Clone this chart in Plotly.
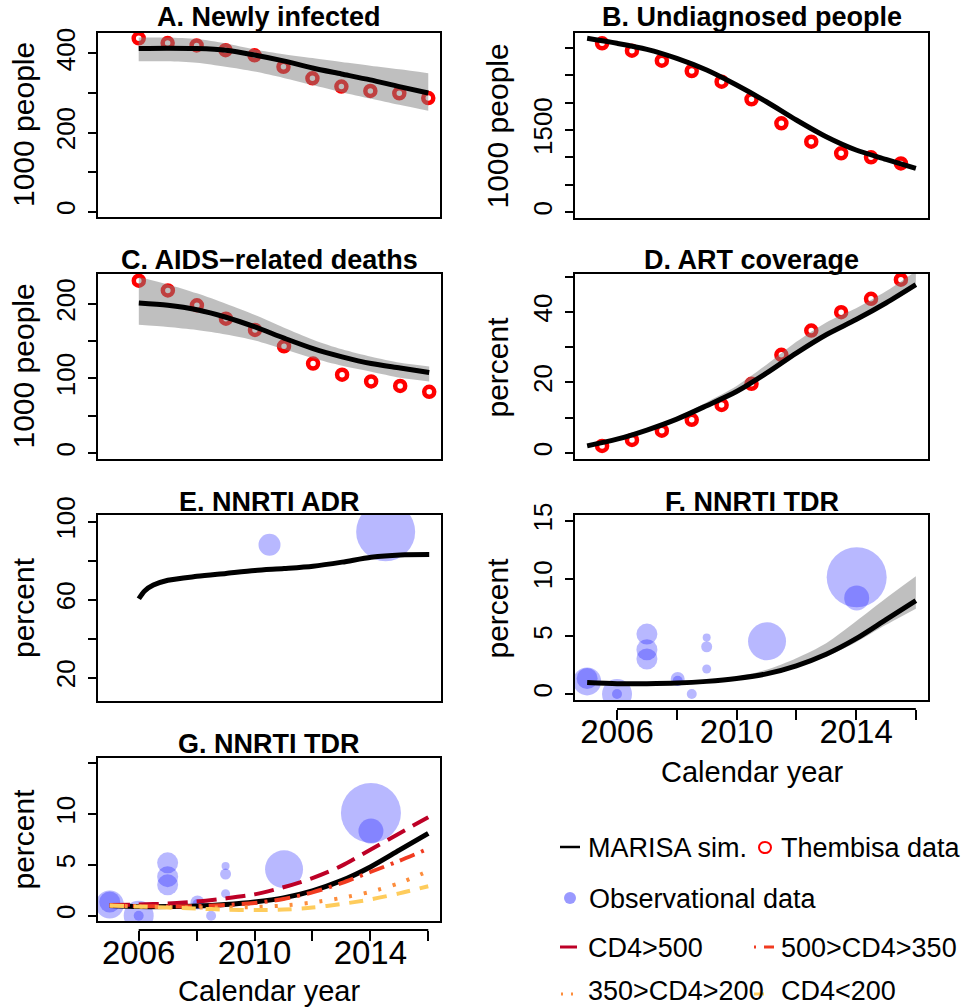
import plotly.graph_objects as go

W, H = 964, 1008
FONT = "Liberation Sans"

# ---------------- data ----------------
years_a = [2006, 2007, 2008, 2009, 2010, 2011, 2012, 2013, 2014, 2015, 2016]
years_b = [2005, 2006, 2007, 2008, 2009, 2010, 2011, 2012, 2013, 2014, 2015, 2016]
data_years_mid = [2005.5, 2006.5, 2007.5, 2008.5, 2009.5, 2010.5, 2011.5, 2012.5, 2013.5, 2014.5, 2015.5]

# A. Newly infected (1000 people)
a_thembisa = [438, 426, 420, 408, 395, 366, 337, 316, 305, 299, 287]
a_sim = [412, 413, 412, 408, 396, 381, 363, 348, 333, 316, 300]
a_upper = [440, 440, 436, 425, 410, 398, 388, 378, 369, 360, 350]
a_lower = [380, 380, 376, 366, 354, 338, 320, 302, 286, 270, 255]

# B. Undiagnosed people (1000 people)
b_thembisa = [3085, 2951, 2768, 2579, 2383, 2061, 1622, 1286, 1073, 1000, 890]
b_sim = [3176, 3085, 2975, 2810, 2597, 2323, 2017, 1683, 1377, 1134, 964, 799]
b_upper = [3196, 3108, 3000, 2838, 2628, 2356, 2050, 1715, 1405, 1160, 988, 822]
b_lower = [3156, 3062, 2950, 2782, 2566, 2290, 1984, 1651, 1349, 1108, 940, 776]

# C. AIDS-related deaths (1000 people)
c_thembisa = [231, 218, 198, 180, 165, 143, 120, 105, 96, 90, 82]
c_sim = [201, 198, 192, 182, 169, 154, 140, 129, 120, 114, 108]
c_upper = [236, 226, 214, 200, 185, 168, 152, 139, 129, 121, 116]
c_lower = [172, 169, 165, 159, 151, 139, 127, 117, 109, 101, 96]

# D. ART coverage (percent)
d_thembisa = [2.0, 3.7, 6.3, 9.4, 13.6, 19.6, 27.8, 34.7, 39.9, 43.7, 49.1]
d_sim = [2.0, 3.9, 6.5, 9.6, 13.4, 17.4, 22.6, 28.3, 33.5, 37.8, 42.5, 47.7]
d_upper = [2.0, 4.0, 6.8, 10.2, 14.4, 19.0, 25.0, 31.5, 37.0, 41.0, 45.8, 51.5]
d_lower = [1.8, 3.6, 6.2, 9.3, 13.1, 17.1, 22.3, 28.0, 33.2, 37.5, 42.2, 47.4]

# E. NNRTI ADR (percent)
e_years = [2006, 2006.2, 2006.5, 2007, 2008, 2009, 2010, 2011, 2012, 2013, 2014, 2015, 2016]
e_sim = [60.5, 64.5, 67.5, 70.0, 72.0, 73.5, 75.0, 76.0, 77.2, 79.3, 81.8, 83.0, 83.2]
e_obs_year = [2010.5, 2014.5]
e_obs_value = [88.2, 94.9]
e_obs_size = [22, 59]

# F / G. NNRTI TDR (percent)
f_sim = [1.0, 0.9, 0.9, 0.95, 1.1, 1.35, 1.75, 2.45, 3.45, 4.8, 6.45, 8.1]
f_upper = [1.0, 0.9, 0.9, 1.0, 1.2, 1.5, 2.1, 3.1, 4.4, 6.3, 8.3, 10.2]
f_lower = [1.0, 0.9, 0.9, 0.95, 1.05, 1.3, 1.65, 2.3, 3.25, 4.5, 6.0, 7.4]
tdr_obs_year = [2005, 2005, 2006, 2006, 2007, 2007, 2007, 2008.03, 2008.03, 2008.5,
                2009, 2009, 2009, 2011.02, 2014.02, 2014.02]
tdr_obs_value = [1.1, 1.35, 0.0, 0.0, 5.2, 3.84, 3.04, 1.3, 1.15, 0.0,
                 4.9, 4.1, 2.17, 4.57, 10.12, 8.33]
tdr_obs_size = [28, 21, 30, 10, 21, 21, 21, 14, 10, 10,
                8, 11, 9, 38, 60, 25]

g_cd4_500 = [1.05, 1.1, 1.2, 1.4, 1.7, 2.1, 2.8, 3.7, 4.9, 6.5, 8.1, 9.7]
g_cd4_350 = [1.0, 0.95, 0.9, 0.95, 1.05, 1.25, 1.65, 2.3, 3.2, 4.3, 5.4, 6.6]
g_cd4_200 = [1.0, 0.9, 0.85, 0.8, 0.8, 0.85, 1.0, 1.3, 1.75, 2.35, 3.2, 4.4]
g_cd4_lt200 = [1.0, 0.9, 0.8, 0.7, 0.6, 0.55, 0.6, 0.8, 1.15, 1.6, 2.2, 2.9]

x_tickvals = [2006, 2008, 2010, 2012, 2014, 2016]
x_ticktext = ["2006", "", "2010", "", "2014", ""]

# ---------------- styling ----------------
RED = "#FF0000"
BAND = "rgba(128,128,128,0.5)"
OBS = "rgba(0,0,255,0.4)"
C500, C350, C200, CLT200 = "#BD0026", "#F03B20", "#FD8D3C", "#FECC5C"


def px_x(px):
    return px / W


def px_y(py):
    return 1 - py / H


fig = go.Figure()


def band(xs, up, lo, ax):
    fig.add_trace(go.Scatter(x=xs, y=lo, mode="lines", line=dict(width=0, shape="spline", smoothing=0.8),
                             hoverinfo="skip", showlegend=False, xaxis="x" + ax, yaxis="y" + ax))
    fig.add_trace(go.Scatter(x=xs, y=up, mode="lines", line=dict(width=0, shape="spline", smoothing=0.8),
                             fill="tonexty", fillcolor=BAND,
                             hoverinfo="skip", showlegend=False, xaxis="x" + ax, yaxis="y" + ax))


def simline(xs, ys, ax, color="black", width=5, dash="solid"):
    fig.add_trace(go.Scatter(x=xs, y=ys, mode="lines",
                             line=dict(color=color, width=width, dash=dash, shape="spline", smoothing=0.8),
                             showlegend=False, xaxis="x" + ax, yaxis="y" + ax))


def thembisa(xs, ys, ax):
    fig.add_trace(go.Scatter(x=xs, y=ys, mode="markers",
                             marker=dict(symbol="circle-open", size=10, color=RED, line=dict(width=4.5, color=RED)),
                             showlegend=False, xaxis="x" + ax, yaxis="y" + ax))


def obs(xs, ys, ss, ax):
    fig.add_trace(go.Scatter(x=xs, y=ys, mode="markers",
                             marker=dict(symbol="circle", size=ss, color=OBS, line=dict(width=0)),
                             showlegend=False, xaxis="x" + ax, yaxis="y" + ax))


# A
thembisa(years_a, a_thembisa, "")
band(years_a, a_upper, a_lower, "")
simline(years_a, a_sim, "")
# B
thembisa(data_years_mid, b_thembisa, "2")
band(years_b, b_upper, b_lower, "2")
simline(years_b, b_sim, "2")
# C
thembisa(years_a, c_thembisa, "3")
band(years_a, c_upper, c_lower, "3")
simline(years_a, c_sim, "3")
# D
thembisa(data_years_mid, d_thembisa, "4")
band(years_b, d_upper, d_lower, "4")
simline(years_b, d_sim, "4")
# E
obs(e_obs_year, e_obs_value, e_obs_size, "5")
simline(e_years, e_sim, "5")
# F
obs(tdr_obs_year, tdr_obs_value, tdr_obs_size, "6")
band(years_b, f_upper, f_lower, "6")
simline(years_b, f_sim, "6")
# G
obs(tdr_obs_year, tdr_obs_value, tdr_obs_size, "7")
simline(years_b, f_sim, "7")
simline(years_b, g_cd4_500, "7", color=C500, width=4, dash="20px,9px")
simline(years_b, g_cd4_350, "7", color=C350, width=4, dash="16px,7px,3px,7px")
simline(years_b, g_cd4_200, "7", color=C200, width=4, dash="3px,12px")
simline(years_b, g_cd4_lt200, "7", color=CLT200, width=4, dash="14px,10px")

# ---------------- axes ----------------
panels = {
    "": dict(box=(97, 441, 32, 218), yr=[-16, 454], tv=[0, 100, 200, 300, 400], tt=["0", "", "200", "", "400"]),
    "2": dict(box=(574, 929, 32, 219), yr=[-127, 3292], tv=[0, 500, 1000, 1500, 2000, 2500, 3000],
              tt=["0", "", "", "1500", "", "", ""]),
    "3": dict(box=(97, 442, 273, 460), yr=[-9.3, 241.3], tv=[0, 50, 100, 150, 200], tt=["0", "", "100", "", "200"]),
    "4": dict(box=(574, 929, 273, 460), yr=[-2, 51], tv=[0, 10, 20, 30, 40, 50], tt=["0", "", "20", "", "40", ""]),
    "5": dict(box=(97, 442, 514, 702), yr=[7.5, 104], tv=[20, 40, 60, 80, 100], tt=["20", "", "60", "", "100"]),
    "6": dict(box=(574, 929, 514, 701), yr=[-0.6, 15.6], tv=[0, 5, 10, 15], tt=["0", "5", "10", "15"]),
    "7": dict(box=(97, 441, 757, 922), yr=[-0.62, 15.62], tv=[0, 5, 10, 15], tt=["0", "5", "10", ""]),
}
xaxis_pos = {"6": 709, "7": 930}
XR = [2004.56, 2016.44]

layout_axes = {}
shapes = []
for k, p in panels.items():
    x0, x1, y0, y1 = p["box"]
    xa = dict(domain=[px_x(x0), px_x(x1)], range=XR, showgrid=False, zeroline=False,
              showline=False, fixedrange=True, anchor="y" + k)
    if k in xaxis_pos:
        xa.update(anchor="free", position=px_y(xaxis_pos[k]), tickvals=x_tickvals, ticktext=x_ticktext,
                  ticks="outside", ticklen=10, tickwidth=2, tickcolor="black",
                  tickfont=dict(family=FONT, size=33, color="black"), ticklabelstandoff=-17)
        shapes.append(dict(type="line", xref="x" + k, yref="paper", x0=2006, x1=2016,
                           y0=px_y(xaxis_pos[k]), y1=px_y(xaxis_pos[k]), line=dict(color="black", width=2)))
    else:
        xa.update(showticklabels=False, ticks="")
    ya = dict(domain=[px_y(y1), px_y(y0)], range=p["yr"], showgrid=False, zeroline=False, showline=False,
              fixedrange=True, anchor="x" + k, tickvals=p["tv"], ticktext=p["tt"], ticks="outside",
              ticklen=8, tickwidth=1.5, tickcolor="black", tickangle=-90,
              tickfont=dict(family=FONT, size=26, color="black"), ticklabelstandoff=3)
    layout_axes["xaxis" + k] = xa
    layout_axes["yaxis" + k] = ya
    shapes.append(dict(type="rect", xref=("x" + k) + " domain", yref=("y" + k) + " domain",
                       x0=0, x1=1, y0=0, y1=1, line=dict(color="black", width=2), layer="above"))

# ---------------- text ----------------
annotations = []


def text(s, x, y, size, bold=False, angle=0, xanchor="center", yanchor="middle", color="black"):
    annotations.append(dict(text=("<b>%s</b>" % s) if bold else s, x=px_x(x), y=px_y(y),
                            xref="paper", yref="paper", showarrow=False, textangle=angle,
                            xanchor=xanchor, yanchor=yanchor,
                            font=dict(family=FONT, size=size, color=color)))


titles = {"": "A. Newly infected", "2": "B. Undiagnosed people", "3": "C. AIDS\u2212related deaths",
          "4": "D. ART coverage", "5": "E. NNRTI ADR", "6": "F. NNRTI TDR", "7": "G. NNRTI TDR"}
title_y = {"": 17, "2": 17, "3": 260, "4": 260, "5": 502, "6": 502, "7": 744}
ylabels = {"": "1000 people", "2": "1000 people", "3": "1000 people", "4": "percent",
           "5": "percent", "6": "percent", "7": "percent"}
for k, p in panels.items():
    x0, x1, y0, y1 = p["box"]
    text(titles[k], (x0 + x1) / 2, title_y[k], 27, bold=True)
    ylab_x = 23 if x0 < 300 else 497
    text(ylabels[k], ylab_x, (y0 + y1) / 2, 30, angle=-90)
text("Calendar year", (574 + 929) / 2, 772, 29)
text("Calendar year", (97 + 441) / 2, 991, 29)

# ---------------- legend ----------------
LEG = 27
shapes.append(dict(type="line", xref="paper", yref="paper", x0=px_x(560), x1=px_x(580),
                   y0=px_y(847), y1=px_y(847), line=dict(color="black", width=2.5)))
text("MARISA sim.", 586, 848, LEG, xanchor="left")
shapes.append(dict(type="circle", xref="paper", yref="paper", x0=px_x(759), x1=px_x(771),
                   y0=px_y(853), y1=px_y(842), line=dict(color=RED, width=2)))
text("Thembisa data", 779, 848, LEG, xanchor="left")
shapes.append(dict(type="circle", xref="paper", yref="paper", x0=px_x(564), x1=px_x(576),
                   y0=px_y(904), y1=px_y(892), fillcolor=OBS, line=dict(width=0)))
text("Observational data", 587, 899, LEG, xanchor="left")
shapes.append(dict(type="line", xref="paper", yref="paper", x0=px_x(560), x1=px_x(577),
                   y0=px_y(947), y1=px_y(947), line=dict(color=C500, width=3)))
text("CD4>500", 586, 948, LEG, xanchor="left")
for a, b in [(754, 756), (764, 774)]:
    shapes.append(dict(type="line", xref="paper", yref="paper", x0=px_x(a), x1=px_x(b),
                       y0=px_y(947), y1=px_y(947), line=dict(color=C350, width=3)))
text("500>CD4>350", 779, 948, LEG, xanchor="left")
for a, b in [(561, 563), (571, 573)]:
    shapes.append(dict(type="line", xref="paper", yref="paper", x0=px_x(a), x1=px_x(b),
                       y0=px_y(994), y1=px_y(994), line=dict(color=C200, width=3)))
text("350>CD4>200", 586, 1008, LEG, xanchor="left", yanchor="bottom")
shapes.append(dict(type="line", xref="paper", yref="paper", x0=px_x(754), x1=px_x(764),
                   y0=px_y(994), y1=px_y(994), line=dict(color=CLT200, width=3)))
text("CD4<200", 779, 1008, LEG, xanchor="left", yanchor="bottom")

fig.update_layout(width=W, height=H, margin=dict(l=0, r=0, t=0, b=0, autoexpand=False),
                  paper_bgcolor="white", plot_bgcolor="white", showlegend=False,
                  font=dict(family=FONT, color="black"),
                  shapes=shapes, annotations=annotations, **layout_axes)
fig.write_html("out.html", config={"displayModeBar": False})
